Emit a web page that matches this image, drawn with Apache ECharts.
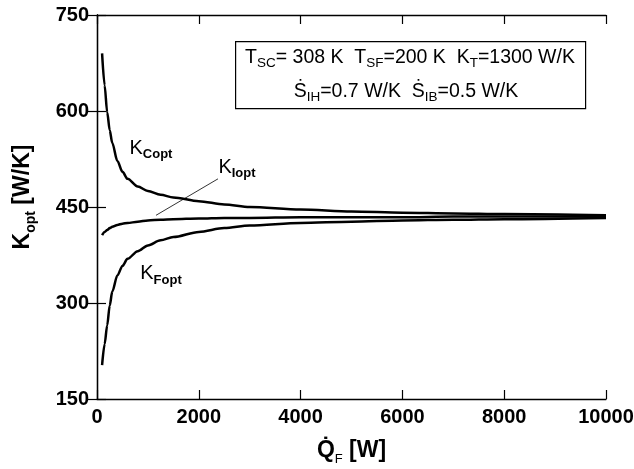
<!DOCTYPE html>
<html lang="en">
<head>
    <meta charset="UTF-8">
    <title></title>
    <script src="https://cdn.jsdelivr.net/npm/echarts@6/dist/echarts.min.js"></script>
    <style>
        html, body { margin: 0; padding: 0; background: #fff; }
    </style>
</head>
<body>
<div id="main" style="width: 634px;height:469px;"></div>

<script type="text/javascript">
    // heat flow Q_F [W]
    var qF = [100, 150, 200, 250, 300, 400, 500, 600, 800, 1000, 1250, 1500, 2000, 2500, 3000, 4000, 5000, 6000, 7000, 8000, 10000];
    // optimal conductances [W/K]
    var kCopt = [690, 640, 598, 570, 550, 522, 505, 494, 482, 475, 469, 465, 459, 454, 450, 446, 443, 441, 440, 439, 437];
    var kIopt = [406, 411, 414, 417, 419, 422, 424, 425, 427, 429, 430, 431, 432, 433, 433, 434, 434, 434, 435, 435, 435];
    var kFopt = [203, 236, 265, 296, 318, 343, 358, 369, 381, 390, 398, 403, 411, 417, 421, 425, 427, 429, 430, 431, 433];
    // leader line for the K_Iopt label
    var leaderQ = [2377, 1159];
    var leaderK = [494, 437];

    var font = 'Liberation Sans, Arial, sans-serif';

    function pairs(xs, ys) {
        var out = [];
        for (var i = 0; i < xs.length; i++) out.push([xs[i], ys[i]]);
        return out;
    }

    var myChart = echarts.init(document.getElementById('main'));

    var curve = function (name, vals) {
        return {
            name: name, type: 'line', data: pairs(qF, vals),
            smooth: 0.3, smoothMonotone: 'x', showSymbol: false, silent: true,
            lineStyle: {color: '#000', width: 2.5}
        };
    };

    var tickStyle = {inside: true, length: 9, lineStyle: {color: '#000', width: 1.2}};
    var lineStyle = {lineStyle: {color: '#000', width: 1.3}};

    var option = {
        animation: false,
        backgroundColor: '#fff',
        grid: {left: 97, right: 28, top: 15, bottom: 70, outerBoundsMode: 'none', containLabel: false},
        xAxis: [{
            type: 'value', min: 0, max: 10000, interval: 2000,
            name: '{b|Q̇}{s|F}{b| [W]}', nameLocation: 'middle', nameGap: 37,
            nameTextStyle: {
                rich: {
                    b: {fontFamily: font, fontSize: 23, fontWeight: 'bold', color: '#000', lineHeight: 28},
                    s: {fontFamily: font, fontSize: 13, color: '#000', verticalAlign: 'bottom', lineHeight: 30}
                }
            },
            axisLine: lineStyle,
            axisTick: tickStyle,
            axisLabel: {fontFamily: font, fontSize: 20, fontWeight: 'bold', color: '#000', margin: 8,
                formatter: function (v) { return String(v); }},
            splitLine: {show: false}
        }, {
            type: 'value', min: 0, max: 10000, interval: 2000, position: 'top',
            axisLine: lineStyle,
            axisTick: tickStyle,
            axisLabel: {show: false},
            splitLine: {show: false}
        }],
        yAxis: [{
            type: 'value', min: 150, max: 750, interval: 150,
            name: '{b|K}{s|opt}{b| [W/K]}', nameLocation: 'middle', nameGap: 59, nameRotate: 90,
            nameTextStyle: {
                padding: [0, 0, 0, 20],
                rich: {
                    b: {fontFamily: font, fontSize: 23, fontWeight: 'bold', color: '#000', lineHeight: 28},
                    s: {fontFamily: font, fontSize: 14, fontWeight: 'bold', color: '#000', verticalAlign: 'bottom', lineHeight: 30}
                }
            },
            axisLine: lineStyle,
            axisTick: tickStyle,
            axisLabel: {fontFamily: font, fontSize: 20, fontWeight: 'bold', color: '#000', margin: 8},
            splitLine: {show: false}
        }, {
            type: 'value', min: 150, max: 750, interval: 150, position: 'right',
            axisLine: lineStyle,
            axisTick: tickStyle,
            axisLabel: {show: false},
            splitLine: {show: false}
        }],
        series: [
            curve('K_Copt', kCopt),
            curve('K_Iopt', kIopt),
            curve('K_Fopt', kFopt),
            {
                name: 'leader', type: 'line', data: pairs(leaderQ, leaderK),
                showSymbol: false, silent: true,
                lineStyle: {color: '#000', width: 0.8}
            }
        ]
    };
    myChart.setOption(option);

    // curve labels, anchored in data coordinates
    var labelQ = [1060, 2750, 1257];
    var labelK = [542, 512, 346];
    var labelSub = ['Copt', 'Iopt', 'Fopt'];
    var subRich = {
        k: {fontFamily: font, fontSize: 20, color: '#000', lineHeight: 24},
        s: {fontFamily: font, fontSize: 13, fontWeight: 'bold', color: '#000', verticalAlign: 'bottom', lineHeight: 26}
    };
    var boxRich = {
        m: {fontFamily: font, fontSize: 19.5, color: '#000', lineHeight: 22},
        s: {fontFamily: font, fontSize: 13.5, color: '#000', verticalAlign: 'bottom', lineHeight: 25}
    };

    var graphics = [];
    for (var i = 0; i < labelSub.length; i++) {
        var p = myChart.convertToPixel({gridIndex: 0}, [labelQ[i], labelK[i]]);
        graphics.push({
            type: 'text', x: p[0], y: p[1], silent: true,
            style: {text: '{k|K}{s|' + labelSub[i] + '}', rich: subRich, align: 'center', verticalAlign: 'middle'}
        });
    }
    graphics.push({
        type: 'rect', left: 235, top: 41, silent: true,
        shape: {width: 350, height: 67},
        style: {fill: '#fff', stroke: '#000', lineWidth: 1.2}
    });
    graphics.push({
        type: 'text', x: 410, y: 58, silent: true,
        style: {
            text: '{m|T}{s|SC}{m|= 308 K  T}{s|SF}{m|=200 K  K}{s|T}{m|=1300 W/K}',
            rich: boxRich, align: 'center', verticalAlign: 'middle'
        }
    });
    graphics.push({
        type: 'text', x: 406, y: 92, silent: true,
        style: {
            text: '{m|Ṡ}{s|IH}{m|=0.7 W/K  Ṡ}{s|IB}{m|=0.5 W/K}',
            rich: boxRich, align: 'center', verticalAlign: 'middle'
        }
    });
    myChart.setOption({graphic: graphics});
</script>
</body>
</html>
